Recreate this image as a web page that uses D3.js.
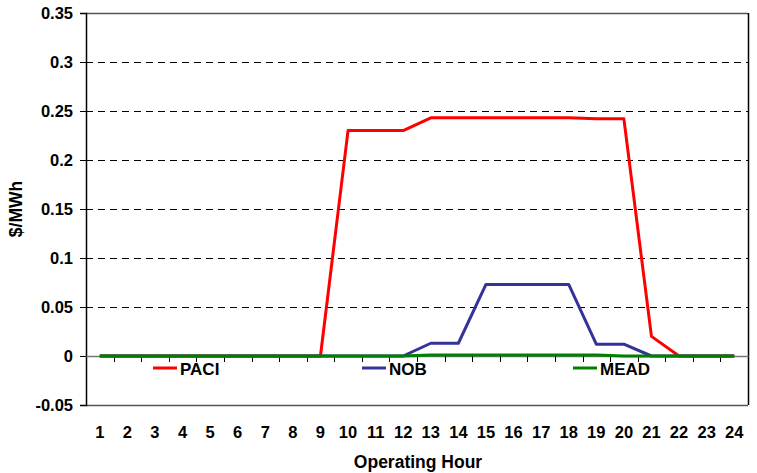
<!DOCTYPE html>
<html>
<head>
<meta charset="utf-8">
<script src="https://cdn.jsdelivr.net/npm/d3@7"></script>
<style>
body { margin: 0; background: #fff; }
text { font-family: "Liberation Sans", Arial, sans-serif; font-weight: bold; }
</style>
</head>
<body>
<script>
var hours = [1,2,3,4,5,6,7,8,9,10,11,12,13,14,15,16,17,18,19,20,21,22,23,24];
var paci = [0,0,0,0,0,0,0,0,0,0.23,0.23,0.23,0.243,0.243,0.243,0.243,0.243,0.243,0.242,0.242,0.02,0,0,0];
var nob  = [0,0,0,0,0,0,0,0,0,0,0,0,0.013,0.013,0.073,0.073,0.073,0.073,0.012,0.012,0,0,0,0];
var mead = [0,0,0,0,0,0,0,0,0,0,0,0,0.001,0.001,0.001,0.001,0.001,0.001,0.001,0,0,0,0,0];
var yTicks = [-0.05,0,0.05,0.1,0.15,0.2,0.25,0.3,0.35];

var series = [
	{name: "PACI", values: paci, color: "#ff0000", lx: 153},
	{name: "NOB", values: nob, color: "#333399", lx: 362},
	{name: "MEAD", values: mead, color: "#008000", lx: 573}
];

var w = 757, h = 473;
var pLeft = 86, pRight = 748, pTop = 13, pBottom = 405;

var svg = d3.select("body").append("svg")
	.attr("width", w)
	.attr("height", h);

var x = d3.scaleBand()
	.domain(hours)
	.range([pLeft, pRight]);

var y = d3.scaleLinear()
	.domain([-0.05, 0.35])
	.range([pBottom, pTop]);

// grid lines
svg.selectAll("line.grid")
	.data(yTicks.filter(function(d){ return d > -0.05 && d < 0.35 && d != 0; }))
	.enter()
	.append("line")
	.attr("class", "grid")
	.attr("x1", pLeft).attr("x2", pRight)
	.attr("y1", function(d){ return Math.round(y(d)) + 0.5; })
	.attr("y2", function(d){ return Math.round(y(d)) + 0.5; })
	.attr("stroke", "#000")
	.attr("stroke-dasharray", "7,5");

// plot border
svg.append("line").attr("x1", pLeft).attr("x2", pRight).attr("y1", pTop + 0.5).attr("y2", pTop + 0.5).attr("stroke", "#555").attr("stroke-width", 1.5);
svg.append("line").attr("x1", pLeft).attr("x2", pRight).attr("y1", pBottom + 0.5).attr("y2", pBottom + 0.5).attr("stroke", "#555").attr("stroke-width", 1.5);
svg.append("line").attr("x1", pRight + 0.5).attr("x2", pRight + 0.5).attr("y1", pTop).attr("y2", pBottom).attr("stroke", "#000").attr("stroke-width", 1.5);

// y axis
var yAxis = d3.axisLeft(y)
	.tickValues(yTicks)
	.tickSize(6)
	.tickPadding(7)
	.tickFormat(function(d){ return String(+d.toFixed(2)); });

var gy = svg.append("g")
	.attr("transform", "translate(" + pLeft + ",0)")
	.call(yAxis);
gy.select(".domain").attr("stroke", "#000").attr("stroke-width", 1.5);
gy.selectAll("text").attr("font-size", "16.5px").attr("fill", "#000");

// x axis at zero
var xAxis = d3.axisBottom(x)
	.tickSize(0)
	.tickPadding(0);

var gx = svg.append("g")
	.attr("transform", "translate(0," + Math.round(y(0)) + ")")
	.call(xAxis);
gx.select(".domain").attr("stroke", "#777").attr("stroke-width", 1.5);
gx.selectAll("text")
	.attr("y", 438 - Math.round(y(0)))
	.attr("dy", 0)
	.attr("font-size", "16.5px")
	.attr("fill", "#000");

// tick marks at category boundaries
svg.selectAll("line.xtick")
	.data(hours.slice(1))
	.enter()
	.append("line")
	.attr("class", "xtick")
	.attr("x1", function(d){ return Math.round(x(d)) + 0.5; })
	.attr("x2", function(d){ return Math.round(x(d)) + 0.5; })
	.attr("y1", y(0))
	.attr("y2", y(0) + 6)
	.attr("stroke", "#000");

// lines
var line = d3.line()
	.x(function(d, i){ return x(hours[i]) + x.bandwidth() / 2; })
	.y(function(d){ return y(d); });

svg.selectAll("path.series")
	.data(series)
	.enter()
	.append("path")
	.attr("class", "series")
	.attr("d", function(d){ return line(d.values); })
	.attr("fill", "none")
	.attr("stroke", function(d){ return d.color; })
	.attr("stroke-width", 3)
	.attr("stroke-linejoin", "round");

// legend
var lg = svg.selectAll("g.legend")
	.data(series)
	.enter()
	.append("g")
	.attr("class", "legend")
	.attr("transform", function(d){ return "translate(" + d.lx + ",368)"; });
lg.append("line")
	.attr("x1", 0).attr("x2", 24)
	.attr("stroke", function(d){ return d.color; })
	.attr("stroke-width", 3);
lg.append("text")
	.attr("x", 27)
	.attr("y", 7)
	.attr("font-size", "17px")
	.text(function(d){ return d.name; });

// titles
svg.append("text")
	.attr("x", 418)
	.attr("y", 468)
	.attr("text-anchor", "middle")
	.attr("font-size", "17.5px")
	.text("Operating Hour");

svg.append("text")
	.attr("transform", "translate(22," + (pTop + pBottom) / 2 + ") rotate(-90)")
	.attr("text-anchor", "middle")
	.attr("font-size", "17.5px")
	.text("$/MWh");
</script>
</body>
</html>
